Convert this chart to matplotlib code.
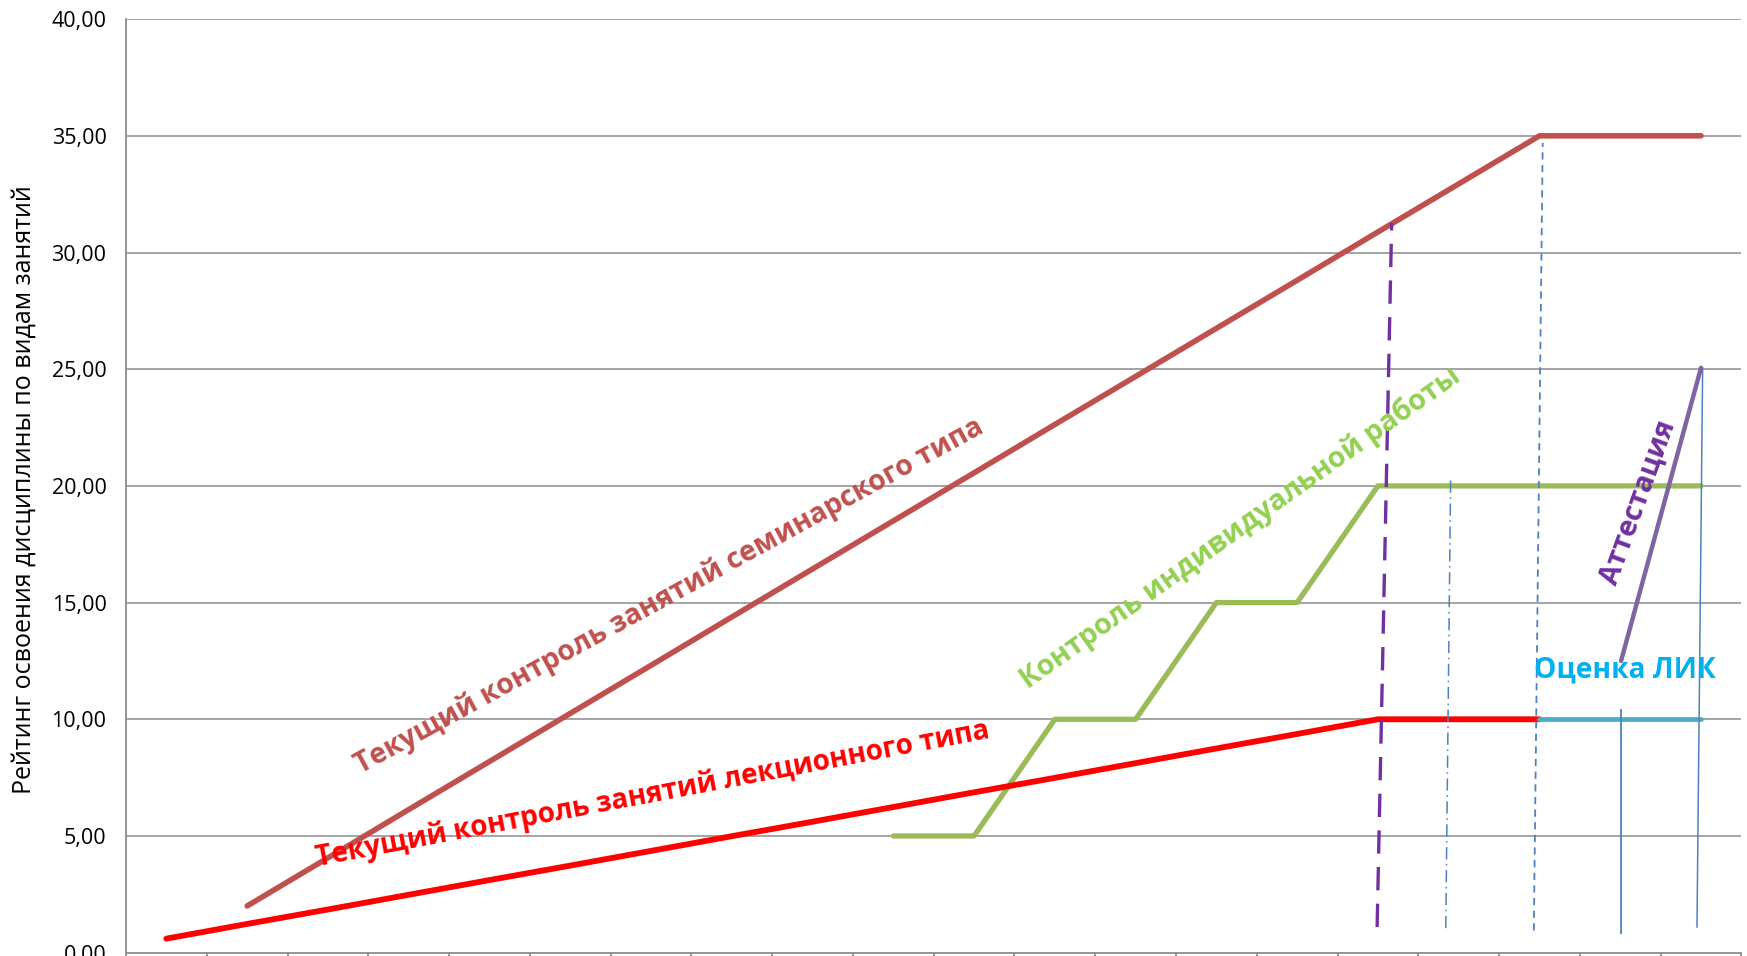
import matplotlib
matplotlib.use("Agg")
import matplotlib.pyplot as plt
import numpy as np

plt.rcParams['font.family'] = ['Open Sans', 'DejaVu Sans']

# ---- data ----
n_cat = 20
categories = list(range(1, n_cat + 1))
seminar = [np.nan, 2.00, 4.06, 6.13, 8.19, 10.25, 12.31, 14.38, 16.44, 18.50, 20.56,
           22.63, 24.69, 26.75, 28.81, 30.88, 32.94, 35.00, 35.00, 35.00]
lecture = [0.60, 1.23, 1.85, 2.48, 3.11, 3.73, 4.36, 4.99, 5.61, 6.24, 6.87,
           7.49, 8.12, 8.75, 9.37, 10.00, 10.00, 10.00, np.nan, np.nan]
individual = [np.nan] * 9 + [5.00, 5.00, 10.00, 10.00, 15.00, 15.00, 20.00, 20.00, 20.00, 20.00, 20.00]
lik = [np.nan] * 17 + [10.00, 10.00, 10.00]

# marker lines (x in category index units, y in rating units)
purple_dash_x = [14.99, 15.17]
purple_dash_y = [1.10, 31.26]
dashdot_x = [15.84, 15.90]
dashdot_y = [1.05, 20.29]
blue_dash_x = [16.93, 17.04]
blue_dash_y = [0.95, 34.70]
blue_short_x = [18.01, 18.01]
blue_short_y = [0.86, 10.41]
blue_long_x = [18.95, 19.02]
blue_long_y = [1.10, 25.06]
attest_x = [18.01, 19.00]
attest_y = [12.50, 25.06]

yticks = [0, 5, 10, 15, 20, 25, 30, 35, 40]
ytick_labels = ["0,00", "5,00", "10,00", "15,00", "20,00", "25,00", "30,00", "35,00", "40,00"]
ylabel = "Рейтинг освоения дисциплины по видам занятий"

# ---- figure ----
W, H = 1747, 956
fig = plt.figure(figsize=(W / 100, H / 100), dpi=100)
ax = fig.add_axes([0.0721, 0.0035, 0.9968 - 0.0721, 0.980 - 0.0035])

x = np.arange(n_cat)
ax.set_xlim(-0.5, n_cat - 0.5)
ax.set_ylim(0, 40)

grid_c = '#8c8c8c'
for yv in yticks[1:]:
    ax.axhline(yv, color=grid_c, lw=1.1, zorder=1)

ax.plot(x, seminar, color='#C0504D', lw=4.0, solid_capstyle='round', zorder=3)
ax.plot(x, lecture, color='#FF0000', lw=4.2, solid_capstyle='round', zorder=4)
ax.plot(x, individual, color='#9BBB59', lw=3.8, solid_capstyle='round', zorder=3)
ax.plot(x, lik, color='#4BACC6', lw=3.4, solid_capstyle='round', zorder=4)

ax.plot(purple_dash_x, purple_dash_y, color='#7030A0', lw=2.4, dashes=(7, 4), zorder=5)
ax.plot(dashdot_x, dashdot_y, color='#4F81BD', lw=1.1, dashes=(8, 3, 1, 3), zorder=5)
ax.plot(blue_dash_x, blue_dash_y, color='#4F81BD', lw=1.3, dashes=(4, 3), zorder=5)
ax.plot(blue_short_x, blue_short_y, color='#4F81BD', lw=1.3, zorder=5)
ax.plot(blue_long_x, blue_long_y, color='#4F81BD', lw=1.1, zorder=5)
ax.plot(attest_x, attest_y, color='#8064A2', lw=3.2, solid_capstyle='round', zorder=6)

for s in ['top', 'right']:
    ax.spines[s].set_visible(False)
for s in ['left', 'bottom']:
    ax.spines[s].set_color(grid_c)
    ax.spines[s].set_linewidth(1.3)

ax.set_yticks(yticks)
ax.set_yticklabels(ytick_labels)
ax.tick_params(axis='y', length=0, pad=14, labelsize=15.5, labelcolor='#000000')
ax.set_xticks(np.arange(-0.5, n_cat, 1.0))
ax.set_xticklabels([])
ax.tick_params(axis='x', length=8, width=1.3, color=grid_c, direction='out')

fig.text(22 / 1568, 1 - 439 / 858, ylabel, rotation=90, ha='center', va='center',
         fontsize=18.0, color='#000000')

renderer = fig.canvas.get_renderer()
scale = W / 1568.0


def fit_text(xd, yd, s, target_perc, angle, color):
    t = ax.text(xd, yd, s, fontsize=20, color=color, fontweight='bold',
                ha='center', va='center', rotation=0, rotation_mode='anchor', zorder=7)
    w = t.get_window_extent(renderer).width
    t.set_fontsize(20 * target_perc * scale / w)
    t.set_rotation(angle)
    return t


fit_text(6.22, 15.3, "Текущий контроль занятий семинарского типа", 635, 28.7, '#C0504D')
fit_text(6.02, 6.8, "Текущий контроль занятий лекционного типа", 616, 10.8, '#FF0000')
fit_text(13.30, 18.2, "Контроль индивидуальной работы", 477, 35.5, '#92D050')
fit_text(18.22, 19.3, "Аттестация", 155, 70.0, '#7030A0')
fit_text(18.06, 12.1, "Оценка ЛИК", 163, 0.0, '#00B0F0')

fig.savefig("out.png", dpi=100)
